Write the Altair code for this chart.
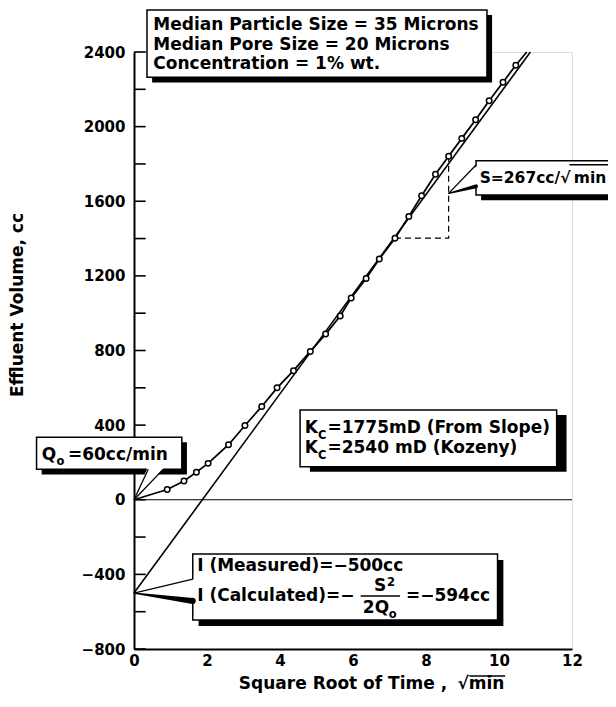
import altair as alt
import pandas as pd

# ---------------- data ----------------
sqrt_time = [0.91, 1.37, 1.71, 2.03, 2.59, 3.04, 3.50, 3.92, 4.37, 4.83, 5.25, 5.65,
             5.95, 6.36, 6.72, 7.15, 7.53, 7.88, 8.26, 8.62, 8.98, 9.36, 9.73, 10.11, 10.46]
effluent_cc = [55, 100, 148, 195, 295, 398, 500, 600, 692, 795, 888, 985,
               1082, 1186, 1290, 1402, 1518, 1630, 1745, 1841, 1937, 2037, 2139, 2238, 2329]
curve_start_x, curve_start_y = 0.0, 0.0
curve_end_x, curve_end_y = 10.76, 2400
fit_x = [0.0, 10.86]
fit_y = [-500, 2400]
slope_x = [7.15, 8.62, 8.62]
slope_y = [1402, 1402, 1841]
x_labels = [0, 2, 4, 6, 8, 10, 12]
y_labels = [-800, -400, 0, 400, 800, 1200, 1600, 2000, 2400]
y_ticks = [-800, -600, -400, -200, 0, 200, 400, 600, 800, 1000, 1200, 1400,
           1600, 1800, 2000, 2200, 2400]

FONT = "DejaVu Sans"

xs = alt.Scale(domain=[0, 12], nice=False, zero=False)
ys = alt.Scale(domain=[-800, 2400], nice=False, zero=False)
xaxis = alt.Axis(values=x_labels, ticks=False, grid=False, title=None, labelFont=FONT,
                 labelFontSize=15, labelFontWeight="bold", labelColor="black",
                 labelPadding=4, labelFlush=False, labelOverlap=False, format="d",
                 domainColor="black", domainWidth=2)
yaxis = alt.Axis(values=y_labels, ticks=False, grid=False, title=None, labelFont=FONT,
                 labelFontSize=15, labelFontWeight="bold", labelColor="black",
                 labelPadding=9, labelOverlap=False, format="d",
                 domainColor="black", domainWidth=2)


def X(f="x"):
    return alt.X(f"{f}:Q", scale=xs, axis=xaxis)


def Y(f="y"):
    return alt.Y(f"{f}:Q", scale=ys, axis=yaxis)


# ---------------- data layers ----------------
pts = pd.DataFrame({"x": sqrt_time, "y": effluent_cc})
curve = pd.DataFrame({"x": [curve_start_x] + sqrt_time + [curve_end_x],
                      "y": [curve_start_y] + effluent_cc + [curve_end_y]})
fit = pd.DataFrame({"x": fit_x, "y": fit_y})
slope = pd.DataFrame({"x": slope_x, "y": slope_y, "o": [0, 1, 2]})

ticks = pd.DataFrame({"y": y_ticks, "x": 0.0, "x2": 0.32})
zero = pd.DataFrame({"y": [0], "x": [0.0], "x2": [12.0]})

tick_layer = alt.Chart(ticks).mark_rule(color="black", strokeWidth=1.6).encode(
    x=X(), x2="x2:Q", y=Y())
zero_layer = alt.Chart(zero).mark_rule(color="black", strokeWidth=1.2).encode(
    x=X(), x2="x2:Q", y=Y())
fit_layer = alt.Chart(fit).mark_line(color="black", strokeWidth=1.6).encode(x=X(), y=Y())
curve_layer = alt.Chart(curve).mark_line(color="black", strokeWidth=1.8).encode(x=X(), y=Y())
slope_layer = alt.Chart(slope).mark_line(color="black", strokeWidth=1.2,
                                         strokeDash=[6, 4]).encode(
    x=X(), y=Y(), order="o:Q")
pt_layer = alt.Chart(pts).mark_circle(size=30, fill="white", stroke="black",
                                      strokeWidth=1.5, opacity=1).encode(x=X(), y=Y())

# ---------------- annotation boxes ----------------
boxes = pd.DataFrame([
    {"x": 0.356, "x2": 9.67, "y": 2264, "y2": 2625},   # top description
    {"x": 9.37, "x2": 13.9, "y": 1633, "y2": 1817},    # slope S
    {"x": -2.67, "x2": 1.31, "y": 163, "y2": 335},     # Q0
    {"x": 4.55, "x2": 11.58, "y": 177, "y2": 481},     # Kc
    {"x": 1.61, "x2": 9.96, "y": -645, "y2": -291},    # intercept
])
shadow_dx = [0.14, 0.14, 0.14, 0.27, 0.16]
shadow_dy = [27, 27, 27, 27, 32]
shadows = boxes.copy()
shadows["x"] = shadows["x"] + shadow_dx
shadows["x2"] = shadows["x2"] + shadow_dx
shadows["y"] = shadows["y"] - shadow_dy
shadows["y2"] = shadows["y2"] - shadow_dy

shadow_layer = alt.Chart(shadows).mark_rect(color="black").encode(
    x=X(), x2="x2:Q", y=Y(), y2="y2:Q")
box_layer = alt.Chart(boxes).mark_rect(fill="white", stroke="black", strokeWidth=1.5).encode(
    x=X(), x2="x2:Q", y=Y(), y2="y2:Q")

# callout pointers: white wedge erasing the box edge, then the outline
erase_v = pd.DataFrame([
    {"g": "I", "x": 0.0, "y": -500, "y2": -500},
    {"g": "I", "x": 1.66, "y": -425, "y2": -527},
    {"g": "S", "x": 8.62, "y": 1642, "y2": 1642},
    {"g": "S", "x": 9.42, "y": 1794, "y2": 1687},
])
erase_v_layer = alt.Chart(erase_v).mark_area(color="white", opacity=1).encode(
    x=X(), y=Y(), y2="y2:Q", detail="g:N")
erase_h = pd.DataFrame([
    {"x": 0.0, "x2": 0.0, "y": 0},
    {"x": 0.37, "x2": 0.82, "y": 172},
])
erase_h_layer = alt.Chart(erase_h).mark_area(color="white", opacity=1,
                                             orient="horizontal").encode(
    y=Y(), x=X(), x2="x2:Q")

pointer = pd.DataFrame([
    {"g": "q1", "x": 0.0, "y": 0}, {"g": "q1", "x": 0.39, "y": 163},
    {"g": "q2", "x": 0.0, "y": 0}, {"g": "q2", "x": 0.80, "y": 163},
    {"g": "i1", "x": 0.0, "y": -500}, {"g": "i1", "x": 1.61, "y": -425},
    {"g": "s1", "x": 8.62, "y": 1642}, {"g": "s1", "x": 9.37, "y": 1794},
])
pointer_layer = alt.Chart(pointer).mark_line(color="black", strokeWidth=1.3).encode(
    x=X(), y=Y(), detail="g:N")
wedge = pd.DataFrame([
    {"g": "i2", "x": 0.0, "y": -500, "w": 1.3}, {"g": "i2", "x": 1.61, "y": -543, "w": 6},
    {"g": "s2", "x": 8.62, "y": 1642, "w": 1.3}, {"g": "s2", "x": 9.37, "y": 1680, "w": 4},
])
wedge_layer = alt.Chart(wedge).mark_trail(color="black").encode(
    x=X(), y=Y(), detail="g:N", size=alt.Size("w:Q", scale=None, legend=None))

# ---------------- annotation text ----------------
text_main = pd.DataFrame([
    {"x": 0.53, "y": 2518, "t": "Median Particle Size = 35 Microns"},
    {"x": 0.53, "y": 2411, "t": "Median Pore Size = 20 Microns"},
    {"x": 0.53, "y": 2307, "t": "Concentration = 1% wt."},
    {"x": -2.53, "y": 213, "t": "Q"},
    {"x": -1.81, "y": 213, "t": "=60cc/min"},
    {"x": 4.68, "y": 356, "t": "K"},
    {"x": 5.30, "y": 356, "t": "=1775mD (From Slope)"},
    {"x": 4.68, "y": 249, "t": "K"},
    {"x": 5.30, "y": 249, "t": "=2540 mD (Kozeny)"},
    {"x": 1.73, "y": -380, "t": "I (Measured)=−500cc"},
    {"x": 1.73, "y": -541, "t": "I (Calculated)=−"},
    {"x": 7.45, "y": -541, "t": "=−594cc"},
    {"x": 6.27, "y": -607, "t": "2Q"},
    {"x": 8.86, "y": -1014, "t": "√min"},
])
text_s = pd.DataFrame([
    {"x": 9.47, "y": 1698, "t": "S=267cc/√"},
    {"x": 12.05, "y": 1698, "t": "min"},
])
text_right = pd.DataFrame([
    {"x": 8.58, "y": -1014, "t": "Square Root of Time ,"},
])
text_center = pd.DataFrame([
    {"x": 6.74, "y": -487, "t": "S"},
])
text_small = pd.DataFrame([
    {"x": -2.12, "y": 184, "t": "o"},
    {"x": 5.04, "y": 324, "t": "C"},
    {"x": 5.04, "y": 217, "t": "C"},
    {"x": 6.93, "y": -462, "t": "2"},
    {"x": 6.98, "y": -633, "t": "o"},
])
ytitle = pd.DataFrame([{"x": -3.18, "y": 1044, "t": "Effluent Volume, cc"}])

lines_extra = pd.DataFrame([
    {"x": 6.21, "x2": 7.29, "y": -516},      # fraction bar
    {"x": 11.93, "x2": 13.0, "y": 1795},     # radical overline (S box)
    {"x": 9.19, "x2": 10.17, "y": -945},     # radical overline (x title)
])

txt_kw = dict(font=FONT, fontWeight="bold", color="black", baseline="alphabetic")
t_main = alt.Chart(text_main).mark_text(align="left", fontSize=17, **txt_kw).encode(
    x=X(), y=Y(), text="t:N")
t_s = alt.Chart(text_s).mark_text(align="left", fontSize=15.5, **txt_kw).encode(
    x=X(), y=Y(), text="t:N")
t_right = alt.Chart(text_right).mark_text(align="right", fontSize=17, **txt_kw).encode(
    x=X(), y=Y(), text="t:N")
t_center = alt.Chart(text_center).mark_text(align="center", fontSize=17, **txt_kw).encode(
    x=X(), y=Y(), text="t:N")
t_small = alt.Chart(text_small).mark_text(align="left", fontSize=11.5, **txt_kw).encode(
    x=X(), y=Y(), text="t:N")
t_ytitle = alt.Chart(ytitle).mark_text(align="center", baseline="middle", angle=270,
                                       fontSize=17, font=FONT, fontWeight="bold",
                                       color="black").encode(x=X(), y=Y(), text="t:N")
extra_layer = alt.Chart(lines_extra).mark_rule(color="black", strokeWidth=1.5).encode(
    x=X(), x2="x2:Q", y=Y())

chart = alt.layer(
    tick_layer, zero_layer, fit_layer, curve_layer, slope_layer, pt_layer,
    shadow_layer, box_layer, erase_v_layer, erase_h_layer, pointer_layer, wedge_layer,
    extra_layer, t_main, t_s, t_right, t_center, t_small, t_ytitle,
).properties(
    width=438, height=597,
    autosize=alt.AutoSizeParams(type="none"),
    padding={"left": 126, "top": 44, "right": 36, "bottom": 46},
).configure_view(stroke="black", strokeWidth=2).configure(background="white")

chart.save("out.html", embed_options={"renderer": "svg", "actions": False})
